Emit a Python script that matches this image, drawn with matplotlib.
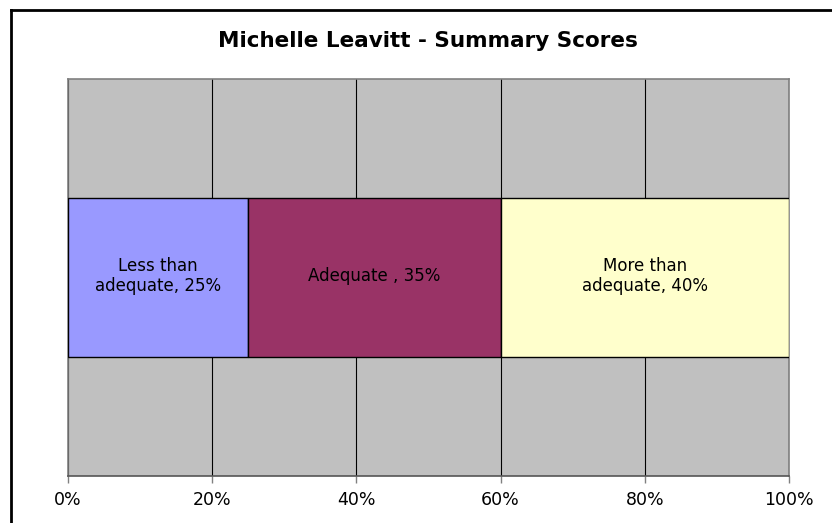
import matplotlib
matplotlib.use("Agg")
import matplotlib.pyplot as plt
from matplotlib.lines import Line2D
from matplotlib.ticker import PercentFormatter

plt.rcParams['font.family'] = ['DejaVu Sans']

title = "Michelle Leavitt - Summary Scores"
categories = ["Less than\nadequate", "Adequate ", "More than\nadequate"]
values = [25, 35, 40]
colors = ['#9999FF', '#993366', '#FFFFCC']
xticks = [0, 20, 40, 60, 80, 100]

fig = plt.figure(figsize=(8.32, 5.23), dpi=100)
ax = fig.add_axes([68 / 832, 1 - 476 / 523, (789 - 68) / 832, (476 - 79) / 523])
ax.set_facecolor('#C0C0C0')

left = 0
for cat, val, col in zip(categories, values, colors):
    ax.barh(0, val, left=left, height=0.4, color=col, edgecolor='black', linewidth=1, zorder=3)
    ax.text(left + val / 2, 0.004, f"{cat}, {val}%", ha='center', va='center',
            fontsize=12, color='black', zorder=4, linespacing=1.15)
    left += val

ax.set_xlim(0, 100)
ax.set_ylim(-0.5, 0.5)
ax.set_xticks(xticks)
ax.xaxis.set_major_formatter(PercentFormatter(decimals=0))
ax.set_yticks([])
ax.grid(axis='x', color='black', linewidth=0.8, zorder=1)
ax.set_axisbelow(True)
ax.tick_params(axis='x', length=5, width=1, color='#808080', labelsize=12.5, pad=6)
for side in ['top', 'right', 'left']:
    ax.spines[side].set_color('#808080')
    ax.spines[side].set_linewidth(1.2)
ax.spines['bottom'].set_color('#555555')
ax.spines['bottom'].set_linewidth(1.2)

fig.text(428 / 832, 1 - 41 / 523, title, ha='center', va='center', fontsize=15.5, fontweight='bold')

# chart border, only top and left edges fall inside the picture
fig.add_artist(Line2D([11 / 832, 11 / 832], [0, 1 - 10 / 523], color='black', linewidth=2, transform=fig.transFigure))
fig.add_artist(Line2D([11 / 832, 1], [1 - 10 / 523, 1 - 10 / 523], color='black', linewidth=2, transform=fig.transFigure))

fig.savefig("out.png", dpi=100)
